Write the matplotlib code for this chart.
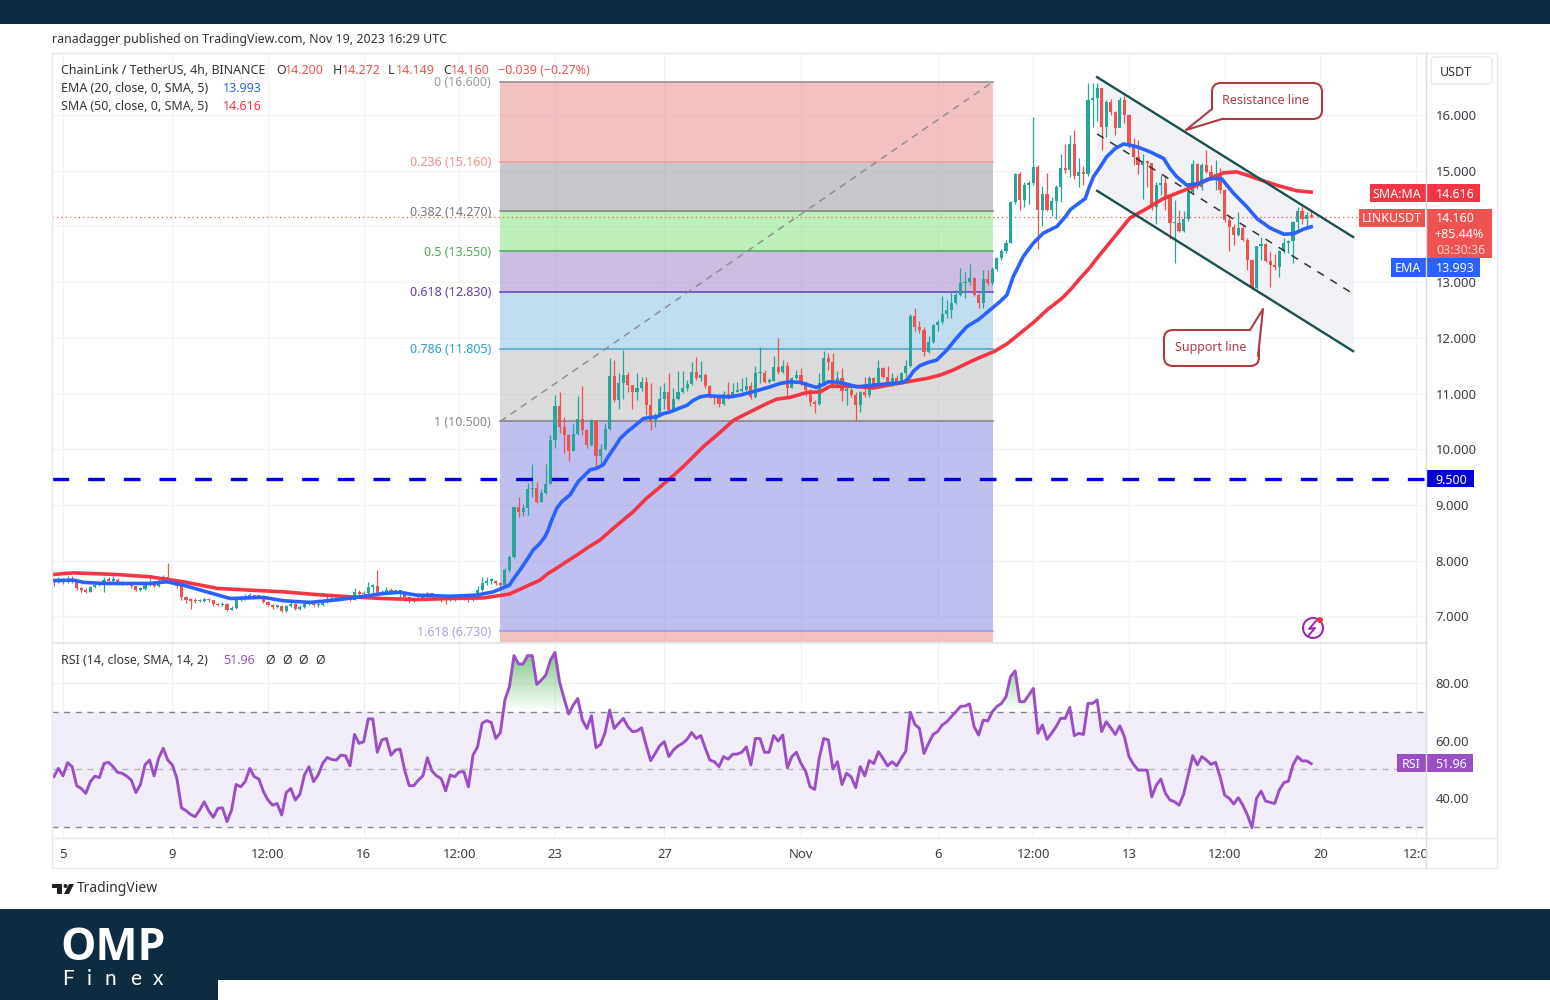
import numpy as np
import matplotlib.pyplot as plt
from matplotlib.patches import Rectangle, FancyBboxPatch, Polygon, Circle
from matplotlib.path import Path

plt.rcParams['font.family'] = ['Noto Sans', 'DejaVu Sans']

# 4h candles, one row = 10 candles, first candle is index -2
closes = [7.62, 7.64, 7.62, 7.66, 7.64, 7.50, 7.48, 7.44, 7.53, 7.56,
          7.58, 7.65, 7.64, 7.66, 7.59, 7.60, 7.60, 7.54, 7.48, 7.49,
          7.56, 7.62, 7.54, 7.64, 7.71, 7.65, 7.62, 7.54, 7.34, 7.30,
          7.28, 7.27, 7.28, 7.30, 7.29, 7.22, 7.20, 7.23, 7.12, 7.15,
          7.30, 7.34, 7.34, 7.38, 7.36, 7.35, 7.26, 7.20, 7.17, 7.19,
          7.10, 7.19, 7.23, 7.14, 7.17, 7.23, 7.28, 7.20, 7.20, 7.25,
          7.30, 7.32, 7.30, 7.32, 7.32, 7.30, 7.44, 7.40, 7.41, 7.53,
          7.54, 7.41, 7.44, 7.48, 7.44, 7.44, 7.44, 7.35, 7.30, 7.30,
          7.32, 7.38, 7.41, 7.35, 7.36, 7.35, 7.29, 7.30, 7.35, 7.36,
          7.34, 7.30, 7.38, 7.47, 7.59, 7.64, 7.64, 7.60, 7.56, 7.83,
          8.06, 8.97, 8.88, 8.94, 9.285, 9.31, 9.05, 9.22, 9.375, 10.16,
          10.78, 10.39, 10.25, 9.97, 10.27, 10.55, 10.34, 10.07, 10.52, 9.88,
          10.00, 10.37, 11.31, 10.89, 11.18, 11.33, 11.15, 11.03, 11.09, 11.21,
          10.79, 10.49, 10.61, 10.91, 11.03, 10.70, 10.91, 11.03, 11.09, 11.17,
          11.38, 11.28, 11.33, 11.14, 10.94, 10.93, 10.81, 11.00, 10.93, 11.03,
          11.05, 11.06, 11.13, 10.94, 11.37, 11.37, 11.21, 11.23, 11.48, 11.39,
          11.49, 11.10, 11.27, 11.34, 11.18, 11.06, 10.85, 10.82, 11.18, 11.63,
          11.57, 11.14, 11.27, 11.05, 11.06, 10.97, 10.79, 11.02, 10.97, 11.27,
          11.15, 11.45, 11.29, 11.21, 11.27, 11.18, 11.36, 11.49, 12.40, 12.19,
          12.14, 11.75, 11.93, 12.23, 12.29, 12.43, 12.50, 12.63, 12.77, 12.98,
          13.00, 13.07, 12.77, 12.63, 13.05, 12.98, 13.23, 13.43, 13.55, 13.71,
          14.44, 14.94, 14.47, 14.74, 14.78, 15.07, 14.29, 14.59, 14.29, 14.46,
          14.71, 15.04, 15.02, 15.48, 14.90, 14.98, 14.94, 16.27, 16.30, 16.48,
          15.78, 16.23, 16.06, 15.76, 16.27, 16.00, 15.46, 15.24, 15.10, 15.18,
          15.13, 14.35, 14.74, 14.78, 14.53, 14.06, 14.06, 13.92, 14.13, 14.61,
          15.12, 14.71, 15.11, 14.98, 14.89, 14.94, 14.65, 14.11, 13.99, 13.85,
          13.98, 13.76, 13.40, 12.89, 13.64, 13.68, 13.38, 13.31, 13.27, 13.55,
          13.70, 13.74, 14.08, 14.28, 14.13, 14.20, 14.16]
highs = [7.68, 7.70, 7.68, 7.72, 7.72, 7.66, 7.52, 7.50, 7.55, 7.60,
         7.62, 7.70, 7.70, 7.72, 7.68, 7.63, 7.62, 7.60, 7.55, 7.52,
         7.58, 7.68, 7.63, 7.68, 7.74, 7.95, 7.68, 7.64, 7.55, 7.36,
         7.32, 7.32, 7.31, 7.33, 7.33, 7.30, 7.24, 7.25, 7.24, 7.18,
         7.32, 7.37, 7.40, 7.41, 7.39, 7.37, 7.37, 7.27, 7.22, 7.21,
         7.20, 7.21, 7.26, 7.24, 7.20, 7.25, 7.30, 7.28, 7.24, 7.27,
         7.38, 7.35, 7.35, 7.34, 7.36, 7.36, 7.50, 7.47, 7.46, 7.62,
         7.58, 7.83, 7.48, 7.52, 7.50, 7.48, 7.46, 7.45, 7.37, 7.33,
         7.36, 7.41, 7.44, 7.42, 7.40, 7.38, 7.36, 7.33, 7.38, 7.40,
         7.38, 7.36, 7.42, 7.55, 7.70, 7.70, 7.68, 7.66, 7.62, 7.86,
         8.10, 8.97, 9.15, 9.02, 9.39, 9.73, 9.42, 9.28, 9.73, 10.25,
         10.97, 11.03, 10.58, 10.27, 10.46, 10.95, 11.13, 10.37, 10.55, 10.52,
         10.09, 10.47, 11.63, 11.60, 11.36, 11.78, 11.38, 11.15, 11.37, 11.30,
         11.30, 11.18, 10.65, 11.13, 11.18, 11.37, 11.09, 11.41, 11.41, 11.25,
         11.57, 11.65, 11.59, 11.37, 11.15, 11.00, 10.96, 11.04, 11.21, 11.18,
         11.21, 11.27, 11.29, 11.20, 11.49, 11.84, 11.42, 11.28, 11.67, 12.00,
         11.60, 11.57, 11.30, 11.43, 11.45, 11.23, 11.08, 10.88, 11.37, 11.77,
         11.73, 11.73, 11.40, 11.45, 11.13, 11.10, 11.02, 11.05, 11.30, 11.32,
         11.30, 11.60, 11.47, 11.50, 11.36, 11.34, 11.38, 11.60, 12.42, 12.54,
         12.30, 12.20, 12.03, 12.25, 12.32, 12.75, 12.68, 12.83, 12.85, 13.25,
         13.19, 13.33, 13.10, 12.80, 13.22, 13.22, 13.27, 13.45, 13.60, 13.75,
         14.46, 14.96, 14.98, 14.80, 14.82, 15.97, 15.10, 14.72, 14.95, 14.53,
         14.75, 15.30, 15.48, 15.64, 15.73, 15.22, 15.08, 16.58, 16.58, 16.58,
         16.48, 16.27, 16.28, 16.08, 16.33, 16.35, 16.02, 15.58, 15.56, 15.30,
         15.20, 15.13, 14.80, 14.92, 14.92, 14.53, 14.47, 14.30, 14.27, 14.77,
         15.19, 15.14, 15.13, 15.37, 15.10, 15.19, 15.04, 14.67, 14.20, 14.05,
         14.26, 14.05, 13.79, 13.42, 13.65, 13.81, 13.70, 13.55, 13.50, 13.58,
         13.79, 13.76, 14.10, 14.35, 14.37, 14.25, 14.272]
lows = [7.55, 7.60, 7.58, 7.60, 7.60, 7.48, 7.44, 7.42, 7.43, 7.50,
        7.54, 7.44, 7.60, 7.62, 7.57, 7.57, 7.56, 7.50, 7.45, 7.46,
        7.47, 7.54, 7.52, 7.52, 7.62, 7.62, 7.58, 7.50, 7.30, 7.24,
        7.14, 7.24, 7.25, 7.26, 7.26, 7.19, 7.18, 7.18, 7.10, 7.11,
        7.14, 7.28, 7.30, 7.32, 7.32, 7.32, 7.24, 7.18, 7.14, 7.15,
        7.08, 7.08, 7.17, 7.12, 7.12, 7.15, 7.21, 7.18, 7.17, 7.18,
        7.24, 7.28, 7.28, 7.29, 7.29, 7.27, 7.30, 7.37, 7.37, 7.38,
        7.40, 7.38, 7.39, 7.43, 7.41, 7.41, 7.33, 7.28, 7.24, 7.26,
        7.30, 7.30, 7.34, 7.32, 7.33, 7.25, 7.22, 7.27, 7.28, 7.32,
        7.30, 7.25, 7.28, 7.36, 7.45, 7.56, 7.58, 7.56, 7.52, 7.54,
        7.80, 8.05, 8.79, 8.80, 8.82, 9.15, 9.03, 9.05, 9.20, 9.37,
        10.03, 10.30, 9.93, 9.78, 9.97, 10.25, 10.25, 10.02, 10.05, 9.66,
        9.74, 9.98, 10.35, 10.85, 10.73, 10.91, 11.02, 10.73, 10.88, 11.05,
        10.62, 10.34, 10.40, 10.60, 10.72, 10.66, 10.68, 10.88, 11.01, 11.05,
        11.15, 11.25, 11.22, 11.10, 10.92, 10.81, 10.75, 10.80, 10.90, 10.92,
        11.03, 11.02, 11.05, 10.90, 10.92, 11.18, 11.19, 11.18, 11.22, 11.35,
        11.37, 10.94, 11.09, 11.26, 11.15, 10.95, 10.78, 10.65, 10.80, 11.15,
        11.42, 11.12, 11.10, 10.87, 10.80, 10.94, 10.50, 10.67, 10.93, 10.93,
        11.12, 11.14, 11.27, 11.18, 11.14, 11.16, 11.17, 11.30, 11.48, 12.13,
        12.08, 11.67, 11.73, 11.90, 12.12, 12.25, 12.35, 12.35, 12.60, 12.75,
        12.71, 12.95, 12.75, 12.53, 12.53, 12.95, 12.95, 13.20, 13.40, 13.53,
        13.70, 14.40, 14.29, 14.35, 14.41, 14.75, 13.59, 14.00, 14.27, 14.18,
        14.14, 14.44, 14.95, 14.89, 14.85, 14.70, 14.74, 14.90, 15.79, 15.90,
        15.37, 15.61, 16.00, 15.64, 15.90, 15.85, 15.40, 15.10, 14.94, 14.50,
        14.71, 14.30, 14.05, 14.56, 14.29, 13.78, 13.35, 13.90, 13.90, 14.10,
        14.60, 14.68, 14.65, 14.95, 14.86, 14.65, 14.60, 14.08, 13.55, 13.66,
        13.83, 13.74, 13.21, 12.88, 12.87, 13.40, 13.36, 12.92, 13.21, 13.10,
        13.52, 13.53, 13.35, 13.94, 14.04, 14.00, 14.149]
rsi = [47.4, 50.3, 47.7, 52.3, 50.9, 44.3, 43.3, 41.6, 45.7, 47.6,
       47.1, 52.0, 52.4, 50.9, 48.9, 48.6, 47.6, 46.2, 41.9, 44.7,
       51.5, 53.2, 47.7, 53.8, 57.3, 53.2, 51.5, 46.8, 36.6, 35.6,
       34.3, 33.5, 35.8, 38.7, 35.5, 33.3, 36.4, 36.6, 31.8, 35.8,
       44.7, 43.9, 45.7, 50.3, 47.4, 46.6, 42.2, 39.3, 37.5, 38.1,
       34.1, 41.9, 43.3, 39.3, 41.3, 48.0, 50.9, 45.7, 48.0, 52.0,
       54.1, 53.4, 53.2, 54.9, 54.7, 51.2, 62.1, 59.0, 59.6, 67.5,
       67.5, 55.9, 60.2, 60.7, 54.9, 56.7, 57.0, 49.7, 44.3, 44.3,
       46.2, 47.7, 54.0, 49.4, 47.7, 46.8, 42.5, 48.0, 47.4, 49.1,
       49.1, 43.9, 54.9, 57.8, 66.0, 66.9, 66.3, 60.7, 62.7, 74.1,
       78.7, 89.5, 86.6, 86.6, 89.5, 89.5, 79.5, 81.0, 82.8, 88.0,
       90.6, 80.4, 74.6, 69.2, 72.3, 74.6, 67.1, 64.2, 68.6, 57.5,
       58.6, 62.8, 70.6, 64.2, 66.0, 67.7, 64.8, 63.1, 63.3, 64.4,
       58.4, 53.0, 55.5, 58.2, 59.6, 54.4, 56.7, 58.1, 59.0, 60.4,
       62.8, 60.7, 61.7, 57.3, 53.2, 52.6, 50.9, 54.4, 53.5, 55.2,
       55.3, 55.9, 57.8, 51.5, 60.7, 60.7, 55.9, 55.9, 61.7, 59.8,
       61.9, 50.5, 54.4, 55.9, 52.0, 49.4, 43.9, 43.0, 53.8, 60.7,
       60.2, 50.1, 52.6, 44.7, 48.6, 47.4, 43.6, 50.9, 47.7, 53.0,
       52.0, 56.1, 53.8, 51.2, 52.6, 51.2, 53.8, 56.3, 69.8, 65.6,
       64.2, 55.5, 59.0, 62.1, 63.1, 65.4, 66.5, 68.3, 70.0, 71.8,
       72.0, 72.7, 64.8, 61.9, 67.1, 66.8, 70.0, 71.8, 72.9, 75.2,
       82.2, 84.2, 73.5, 73.5, 75.8, 78.1, 62.5, 65.4, 60.4, 62.5,
       64.8, 67.7, 67.7, 71.5, 61.7, 62.5, 62.1, 72.9, 72.9, 74.1,
       63.1, 66.5, 64.4, 62.1, 65.1, 61.3, 54.4, 51.7, 49.7, 49.7,
       49.7, 40.4, 44.5, 46.6, 41.6, 39.3, 38.7, 37.5, 41.3, 48.0,
       54.7, 51.5, 54.4, 53.2, 51.7, 52.4, 47.4, 41.0, 39.9, 37.9,
       40.1, 37.5, 34.1, 29.7, 39.9, 42.4, 38.9, 38.5, 38.1, 42.8,
       45.3, 45.9, 51.5, 54.4, 52.9, 52.9, 51.96]

ema_idx = [-2.4, 2.3, 4.5, 8.9, 13.2, 19.1, 22.8, 26.4, 31.5, 36.7, 44, 48.4, 54.2, 59.4, 64.5, 70.3, 74, 77.6, 85, 90.8,
           94.5, 98, 98.7, 100.3, 101.8, 103.2, 104.7, 105.8, 106.5, 107.3, 108.4, 109.5, 111.3, 113.1, 114.6, 115.7, 117.2,
           118.6, 119.7, 121.2, 122.3, 123.8, 125.2, 127.4, 128.9, 130.3, 131.8, 133.3, 135.1, 137, 138.4, 139.9, 141.3, 143.5,
           146.4, 148.6, 152.3, 155.2, 157.4, 159.6, 161.8, 163.7, 165.4, 166.9, 168, 170.6, 172.4, 174.3, 177.9, 181.6, 184.5,
           185.6, 186.7, 188.1, 190, 191.8, 194, 196.2, 198.4, 201, 203.5, 205.7, 207.2, 208.6, 210.8, 213, 215.2, 218.2, 220,
           221.1, 222.9, 224.4, 225.3, 226.2, 227.7, 229.1, 231, 232.8, 234.2, 235.7, 238.6, 241.6, 243, 244.5, 246.7, 249.3,
           251.1, 252.6, 254.4, 257, 259.9, 262.1, 265, 268, 270.2, 272.3, 274]
ema_vals = [7.64, 7.65, 7.61, 7.59, 7.59, 7.59, 7.62, 7.56, 7.44, 7.32, 7.34, 7.28, 7.25, 7.29, 7.34, 7.41, 7.43, 7.38, 7.36, 7.38,
            7.44, 7.56, 7.65, 7.83, 8.01, 8.19, 8.31, 8.43, 8.55, 8.73, 8.94, 9.06, 9.18, 9.42, 9.54, 9.63, 9.66,
            9.72, 9.87, 10.05, 10.19, 10.31, 10.40, 10.55, 10.57, 10.58, 10.64, 10.67, 10.73, 10.79, 10.88, 10.94, 10.96, 10.95,
            10.94, 10.97, 11.05, 11.12, 11.18, 11.21, 11.20, 11.15, 11.11, 11.16, 11.21, 11.20, 11.16, 11.12, 11.15, 11.18, 11.20,
            11.27, 11.40, 11.50, 11.56, 11.60, 11.78, 12.00, 12.20, 12.33, 12.50, 12.65, 12.77, 13.10, 13.46, 13.70, 13.88, 14.00, 14.17,
            14.30, 14.41, 14.50, 14.71, 14.89, 15.07, 15.25, 15.40, 15.48, 15.46, 15.43, 15.34, 15.22, 15.04, 14.89, 14.74, 14.77,
            14.84, 14.86, 14.85, 14.59, 14.35, 14.14, 13.97, 13.86, 13.87, 13.95, 13.993]
sma_idx = [-2.4, 2.3, 11.8, 19, 26.4, 34, 41, 48.4, 55.7, 63, 70, 77.6, 85, 92.3, 98, 104.7, 106.5, 108.3, 110.5, 112.8, 115.3,
           117.9, 120.8, 123, 125.2, 128.1, 130.3, 132.5, 136.2, 138.4, 140.6, 143.5, 147.2, 150.8, 152.3, 154.5, 156.7, 159.6,
           163.3, 166.2, 168.4, 173.5, 177.9, 184.5, 189.6, 192.5, 195.4, 198.4, 201.3, 204.3, 207.2, 210.1, 213.1, 216, 219.3,
           221.1, 223.3, 225.3, 227, 228.8, 230.6, 232.4, 234.2, 237.9, 241.6, 245.2, 248.1, 249.9, 251.8, 254.7, 257.6, 259.9,
           262, 266.4, 270.8, 274]
sma_vals = [7.75, 7.78, 7.75, 7.71, 7.62, 7.50, 7.47, 7.44, 7.39, 7.35, 7.32, 7.30, 7.32, 7.33, 7.40, 7.65, 7.77, 7.86, 7.98, 8.10, 8.24,
            8.37, 8.58, 8.73, 8.88, 9.12, 9.27, 9.42, 9.69, 9.87, 10.05, 10.25, 10.52, 10.67, 10.73, 10.82, 10.90, 10.93,
            11.02, 11.03, 11.13, 11.13, 11.10, 11.20, 11.27, 11.33, 11.42, 11.54, 11.65, 11.75, 11.89, 12.08, 12.28, 12.50, 12.71,
            12.86, 13.07, 13.25, 13.43, 13.61, 13.79, 13.97, 14.15, 14.32, 14.50, 14.62, 14.71, 14.78, 14.86, 14.96, 14.98, 14.92,
            14.86, 14.74, 14.64, 14.616]

price_ticks = [7, 8, 9, 10, 11, 12, 13, 14, 15, 16]
rsi_ticks = [40, 60, 80]
time_ticks = [0, 24, 45, 66, 87, 108, 132, 162, 192, 213, 234, 255, 276, 297]
time_labels = ['5', '9', '12:00', '16', '12:00', '23', '27', 'Nov', '6', '12:00', '13', '12:00', '20', '12:0']

fib_span = [96, 204.2]
fib_levels = [16.6, 15.16, 14.27, 13.55, 12.83, 11.805, 10.5, 6.73]
fib_ratios = ['0', '0.236', '0.382', '0.5', '0.618', '0.786', '1', '1.618']
fib_lines = ['#8a8a8a', '#ef9a9a', '#808080', '#4caf50', '#673ab7', '#4aa3cc', '#808080', '#9a9ae8']
fib_text = ['#9a9a9a', '#ee8f8a', '#777777', '#4caf50', '#673ab7', '#2b9fd0', '#8a8a8a', '#a5a5e6']
fib_bands = ['#e78787', '#93939b', '#7be17b', '#9b7fc5', '#85bfe5', '#b9b9b9', '#8183e1', '#e78787']

resistance_idx = [227, 283.2]
resistance = [16.68, 13.81]
middle = [15.66, 12.79]
support = [14.64, 11.76]

x = np.arange(len(closes)) - 2
c = np.array(closes)
o = np.array([7.66] + closes[:-1])
up = c >= o
candle_colors = np.where(up, '#26a69a', '#ef5350')
y_min, y_max = 6.539, 17.113
x_min, x_max = -2.415, 299.2

plt.figure(figsize=(15.5, 10), dpi=100)

# price pane
plt.axes([52 / 1550, 358 / 1000, 1374 / 1550, 589 / 1000])
for i in range(len(fib_levels)):
    lower = fib_levels[i + 1] if i + 1 < len(fib_levels) else y_min
    plt.fill_between(fib_span, lower, fib_levels[i], color=fib_bands[i], alpha=0.5, lw=0, zorder=1)
    plt.plot(fib_span, [fib_levels[i], fib_levels[i]], color=fib_lines[i], lw=1.1, zorder=1.5)
    plt.text(fib_span[0] - 2, fib_levels[i] - 0.015, fib_ratios[i] + ' (%.3f)' % fib_levels[i],
             color=fib_text[i], fontsize=9, ha='right', va='center')
plt.plot(fib_span, [10.5, 16.6], color='#8a8a8a', lw=1, ls=(0, (5, 4)), zorder=1.6)

plt.fill_between(resistance_idx, support, resistance, color='#f1f2f5', lw=0, zorder=1)
plt.vlines(x, lows, highs, color=candle_colors, lw=0.9, zorder=3)
plt.bar(x, np.maximum(np.abs(c - o), 0.025), bottom=np.minimum(c, o), width=0.7, color=candle_colors, zorder=3.1)

plt.plot(sma_idx, sma_vals, color='#f23645', lw=2.6, zorder=4, solid_joinstyle='round')
plt.plot(ema_idx, ema_vals, color='#2962ff', lw=2.6, zorder=4.1, solid_joinstyle='round')
plt.plot(resistance_idx, resistance, color='#1c4f50', lw=1.7, zorder=5)
plt.plot(resistance_idx, support, color='#1c4f50', lw=1.7, zorder=5)
plt.plot(resistance_idx, middle, color='#333333', lw=1.1, ls=(0, (5, 5)), zorder=5)
plt.plot([x_min, x_max], [9.47, 9.47], color='#0000e0', lw=2.4, ls=(0, (5, 5.7)), zorder=6)
plt.plot([x_min, x_max], [14.16, 14.16], color='#ef5350', lw=0.9, ls=(0, (1, 2.5)), zorder=2)

plt.xlim(x_min, x_max)
plt.ylim(y_min, y_max)
plt.xticks(time_ticks, [])
plt.yticks(price_ticks, ['%.3f' % p for p in price_ticks], fontsize=9.4, color='#3c3c44')
plt.tick_params(axis='both', length=0, labelleft=False, labelright=True, pad=7)
plt.grid(True, color='#f2f3f8', lw=1)
plt.gca().set_axisbelow(True)
for side in plt.gca().spines.values():
    side.set_color('#e6e8ee')

# rsi pane
plt.axes([52 / 1550, 162 / 1000, 1374 / 1550, 195 / 1000])
rsi_arr = np.array(rsi)
plt.axhspan(30, 70, color='#f1eefa', lw=0, zorder=1)
plt.axhline(70, color='#85858d', lw=1, ls=(0, (4.3, 4.1)), zorder=2)
plt.axhline(50, color='#b4b4bc', lw=1, ls=(0, (4.3, 4.1)), zorder=2)
plt.axhline(30, color='#85858d', lw=1, ls=(0, (4.3, 4.1)), zorder=2)
hot = plt.fill_between(x, 70, rsi_arr, where=rsi_arr > 70, interpolate=True, lw=0)
hot_path = Path.make_compound_path(*hot.get_paths())
hot.set_visible(False)
shade = np.zeros((256, 1, 4))
shade[:, 0, 0] = 76 / 255
shade[:, 0, 1] = 175 / 255
shade[:, 0, 2] = 80 / 255
shade[:, 0, 3] = np.linspace(0.75, 0, 256)
img = plt.imshow(shade, extent=[x_min, x_max, 70, 92], aspect='auto', zorder=2.5)
img.set_clip_path(hot_path, plt.gca().transData)
plt.plot(x, rsi, color='#9a50c4', lw=2.1, zorder=3, solid_joinstyle='round')
plt.xlim(x_min, x_max)
plt.ylim(26.1, 93.9)
plt.xticks(time_ticks, time_labels, fontsize=9.4, color='#3c3c44')
plt.yticks(rsi_ticks, ['%.2f' % p for p in rsi_ticks], fontsize=9.4, color='#3c3c44')
plt.tick_params(axis='y', length=0, labelleft=False, labelright=True, pad=7)
plt.tick_params(axis='x', length=0, pad=7)
plt.grid(True, color='#f0f1f6', lw=1)
plt.gca().set_axisbelow(True)
for side in plt.gca().spines.values():
    side.set_color('#e6e8ee')

# page furniture drawn in pixels on top of the panes
plt.axes([0, 0, 1, 1])
plt.axis('off')
plt.xlim(0, 1550)
plt.ylim(1000, 0)
page = plt.gca()

page.add_patch(Rectangle((0, 0), 1550, 24, color='#0f2b40', lw=0))
page.add_patch(Rectangle((0, 909), 1550, 91, color='#0f2b40', lw=0))
page.add_patch(Rectangle((218, 980), 1332, 20, color='white', lw=0))
plt.text(60, 949, 'OMP', color='white', fontsize=32, fontweight='bold', va='center', family='Open Sans')
for letter, xpos in zip('Finex', [62, 87, 105, 130, 153]):
    plt.text(xpos, 979, letter, color='white', fontsize=15, va='center', family='Lato')

page.add_patch(Rectangle((52, 53), 1445, 815, fill=False, ec='#e6e8ee', lw=1))
plt.plot([1426, 1426], [53, 868], color='#d9dce4', lw=1)
plt.plot([52, 1497], [838, 838], color='#e6e8ee', lw=1)

plt.text(52, 40, 'ranadagger published on TradingView.com, Nov 19, 2023 16:29 UTC', color='#333333', fontsize=8.95, va='center')
plt.text(61, 70, 'ChainLink / TetherUS, 4h, BINANCE', color='#333333', fontsize=8.95, va='center')
for label, xpos in zip(['O', 'H', 'L', 'C'], [276, 333, 388, 443]):
    plt.text(xpos, 70, label, color='#333333', fontsize=8.95, va='center')
for label, xpos in zip(['14.200', '14.272', '14.149', '14.160', '\u22120.039 (\u22120.27%)'], [285, 342, 396, 451, 498]):
    plt.text(xpos, 70, label, color='#ef5350', fontsize=8.95, va='center')
plt.text(61, 88, 'EMA (20, close, 0, SMA, 5)', color='#333333', fontsize=8.95, va='center')
plt.text(223, 88, '13.993', color='#2962ff', fontsize=8.95, va='center')
plt.text(61, 107, 'SMA (50, close, 0, SMA, 5)', color='#333333', fontsize=8.95, va='center')
plt.text(223, 107, '14.616', color='#f23645', fontsize=8.95, va='center')
plt.text(61, 660, 'RSI (14, close, SMA, 14, 2)', color='#333333', fontsize=8.95, va='center')
plt.text(223, 660, '51.96', color='#9a50c4', fontsize=8.95, va='center')
for xpos in [265, 282, 298, 315]:
    plt.text(xpos, 660, '\u00d8', color='#333333', fontsize=8.95, va='center')

# price scale tags
page.add_patch(FancyBboxPatch((1431, 57), 61, 27, boxstyle='round,pad=0,rounding_size=4', fc='white', ec='#e6e8ee', lw=1))
plt.text(1456, 72, 'USDT', color='#333333', fontsize=8.95, ha='center', va='center')
page.add_patch(Rectangle((1370, 184), 56, 18, color='#f23645', lw=0))
page.add_patch(Rectangle((1427, 184), 53, 18, color='#f23645', lw=0))
plt.text(1397, 194, 'SMA:MA', color='white', fontsize=8.95, ha='center', va='center')
plt.text(1455, 194, '14.616', color='white', fontsize=8.95, ha='center', va='center')
page.add_patch(Rectangle((1359, 209), 66, 18, color='#ef5350', lw=0))
page.add_patch(Rectangle((1427, 209), 65, 49, color='#ef5350', lw=0))
plt.text(1392, 219, 'LINKUSDT', color='white', fontsize=8.95, ha='center', va='center')
plt.text(1455, 219, '14.160', color='white', fontsize=8.95, ha='center', va='center')
plt.text(1459, 235, '+85.44%', color='white', fontsize=8.95, ha='center', va='center')
plt.text(1461, 250, '03:30:36', color='#fbd5d4', fontsize=8.95, ha='center', va='center')
page.add_patch(Rectangle((1391, 258), 35, 19, color='#2962ff', lw=0))
page.add_patch(Rectangle((1427, 258), 53, 19, color='#2962ff', lw=0))
plt.text(1408, 269, 'EMA', color='white', fontsize=8.95, ha='center', va='center')
plt.text(1455, 269, '13.993', color='white', fontsize=8.95, ha='center', va='center')
page.add_patch(Rectangle((1427, 470), 47, 17, color='#0000d0', lw=0))
plt.text(1451, 480, '9.500', color='white', fontsize=8.95, ha='center', va='center')
page.add_patch(Rectangle((1397, 754), 29, 18, color='#9a50c4', lw=0))
page.add_patch(Rectangle((1427, 754), 46, 18, color='#9a50c4', lw=0))
plt.text(1411, 764, 'RSI', color='white', fontsize=8.95, ha='center', va='center')
plt.text(1451, 764, '51.96', color='white', fontsize=8.95, ha='center', va='center')

# callouts
page.add_patch(FancyBboxPatch((1212, 83), 110, 36, boxstyle='round,pad=0,rounding_size=9', fc='white', ec='#b03a42', lw=1.5, zorder=7))
page.add_patch(Polygon([(1212, 109), (1186, 130), (1222, 119)], fc='white', ec='none', zorder=7.1))
plt.plot([1212, 1186, 1222], [109, 130, 119], color='#b03a42', lw=1.5, zorder=7.2)
plt.text(1266, 101, 'Resistance line', color='#b03a42', fontsize=9, ha='center', va='center', zorder=8)
page.add_patch(FancyBboxPatch((1164, 330), 95, 36, boxstyle='round,pad=0,rounding_size=9', fc='white', ec='#b03a42', lw=1.5, zorder=7))
page.add_patch(Polygon([(1250, 330), (1263, 309), (1258, 356)], fc='white', ec='none', zorder=7.1))
plt.plot([1250, 1263, 1258], [330, 309, 356], color='#b03a42', lw=1.5, zorder=7.2)
plt.text(1211, 348, 'Support line', color='#b03a42', fontsize=9, ha='center', va='center', zorder=8)

# lightning badge
page.add_patch(Circle((1313, 628), 10, fill=False, ec='#9c27b0', lw=1.5))
plt.plot([1316, 1309, 1315, 1309], [621, 629, 628, 635], color='#9c27b0', lw=1.4)
page.add_patch(Circle((1320, 620), 3, color='#f23645', lw=0))

# TradingView mark
page.add_patch(Polygon([(52, 884), (62, 884), (62, 894), (57, 894), (57, 888), (52, 888)], color='#222222', lw=0))
page.add_patch(Circle((65.5, 886), 2, color='#222222', lw=0))
page.add_patch(Polygon([(69, 884), (74, 884), (69, 894), (64, 894)], color='#222222', lw=0))
plt.text(77, 889, 'TradingView', color='#333333', fontsize=10, va='center')

plt.savefig('out.png', dpi=100)
